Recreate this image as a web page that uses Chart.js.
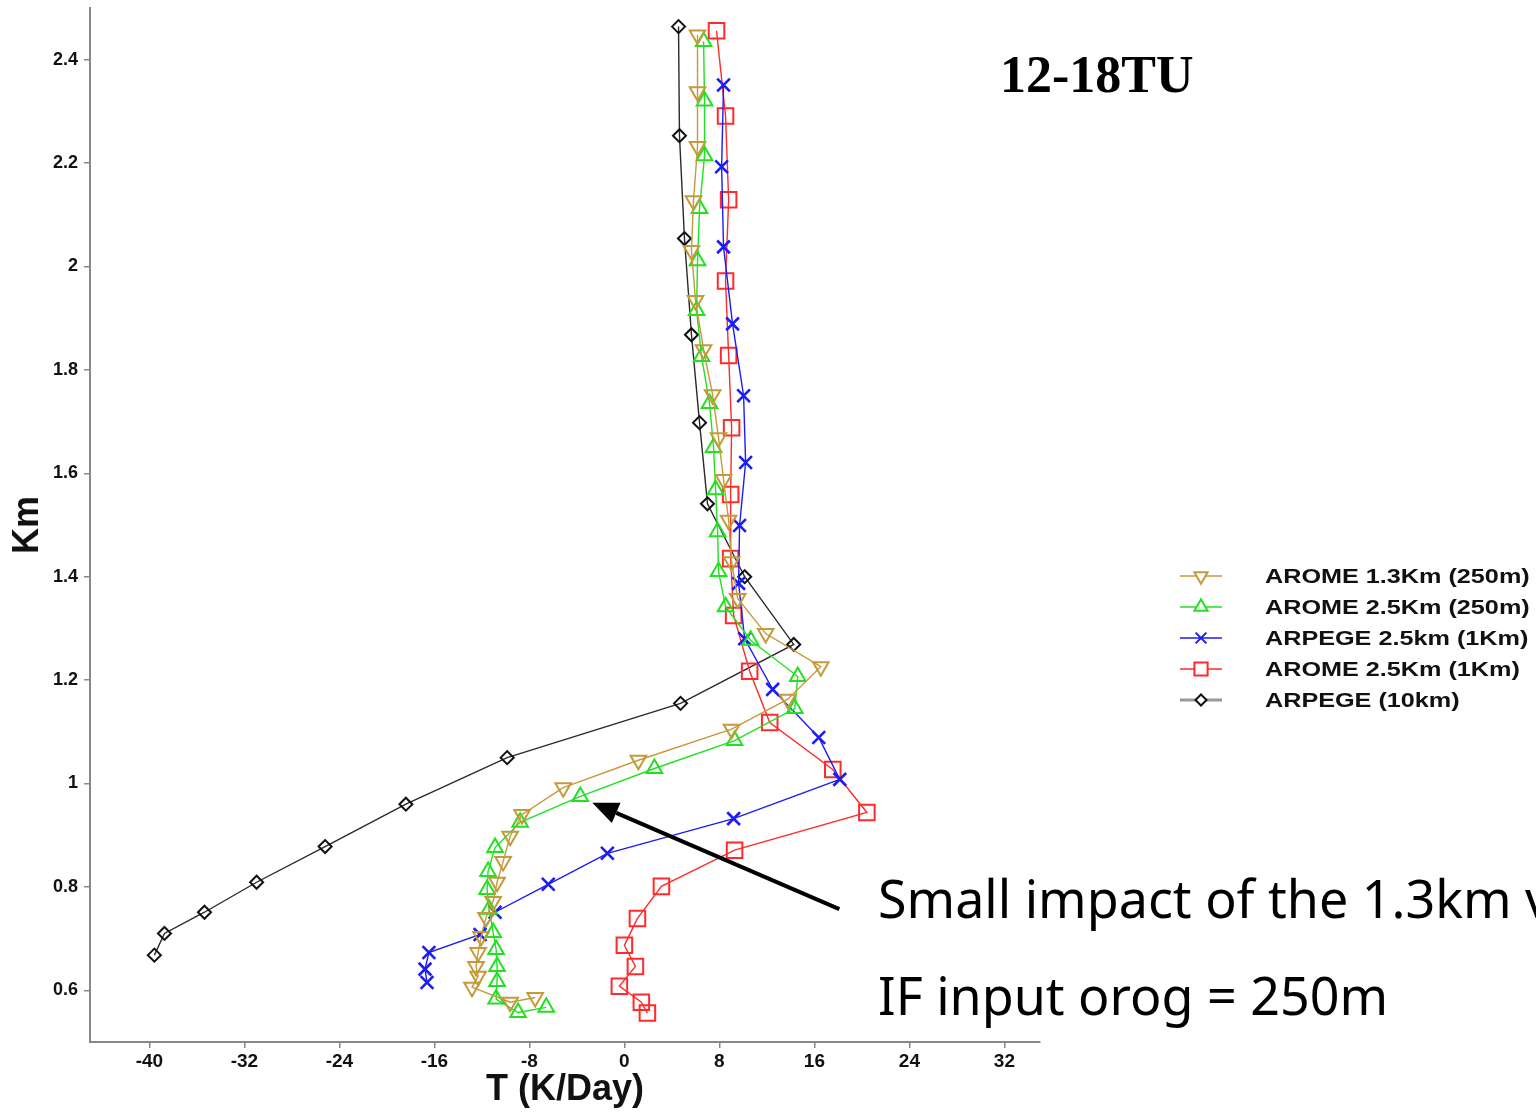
<!DOCTYPE html>
<html>
<head>
<meta charset="utf-8">
<title>12-18TU</title>
<script src="https://cdn.jsdelivr.net/npm/chart.js@4.4.1/dist/chart.umd.min.js"></script>
<style>
  html, body { margin: 0; padding: 0; background: #fff; }
  canvas { display: block; }
</style>
</head>
<body>
<canvas id="perfil" width="1536" height="1114"></canvas>
<script>
// Perfiles de tendencia de temperatura (K/día) frente a altura (km)
const arome13_T = [6.16, 6.16, 6.16, 5.82, 5.65, 5.99, 6.67, 7.43, 7.93, 8.35, 8.78, 9.03, 9.54, 11.9, 16.54, 13.76, 9.03, 1.18, -5.15, -8.61, -9.62, -10.21, -10.72, -11.05, -11.65, -12.07, -12.32, -12.49, -12.32, -12.83, -9.62, -7.51];
const arome13_Z = [2.448, 2.338, 2.232, 2.127, 2.031, 1.934, 1.839, 1.752, 1.669, 1.588, 1.509, 1.429, 1.358, 1.290, 1.226, 1.163, 1.105, 1.045, 0.992, 0.940, 0.898, 0.849, 0.809, 0.772, 0.741, 0.704, 0.673, 0.646, 0.627, 0.606, 0.577, 0.586];

const arome25_T = [6.67, 6.75, 6.75, 6.33, 6.16, 6.08, 6.50, 7.17, 7.51, 7.68, 7.85, 7.93, 8.52, 10.63, 14.6, 14.35, 9.28, 2.53, -3.71, -8.78, -10.89, -11.48, -11.56, -11.39, -11.05, -10.80, -10.72, -10.72, -10.80, -8.95, -6.58];
const arome25_Z = [2.435, 2.320, 2.214, 2.112, 2.011, 1.915, 1.826, 1.735, 1.650, 1.568, 1.487, 1.410, 1.342, 1.277, 1.207, 1.145, 1.083, 1.029, 0.975, 0.925, 0.876, 0.830, 0.795, 0.757, 0.712, 0.679, 0.646, 0.617, 0.583, 0.557, 0.567];

const arpege25_T = [8.35, 8.19, 8.35, 9.11, 10.04, 10.21, 9.70, 9.62, 10.13, 12.49, 16.37, 18.14, 9.20, -1.43, -6.41, -10.89, -12.15, -16.46, -16.79, -16.62];
const arpege25_Z = [2.351, 2.193, 2.038, 1.889, 1.750, 1.621, 1.499, 1.387, 1.280, 1.182, 1.089, 1.008, 0.932, 0.865, 0.805, 0.751, 0.708, 0.673, 0.641, 0.615];

const arome1k_T = [7.76, 8.52, 8.78, 8.52, 8.78, 9.03, 8.95, 8.95, 9.20, 10.55, 12.24, 17.55, 20.42, 9.28, 3.12, 1.10, 0.0, 0.93, -0.42, 1.43, 1.94];
const arome1k_Z = [2.456, 2.291, 2.129, 1.972, 1.828, 1.688, 1.559, 1.435, 1.325, 1.217, 1.118, 1.027, 0.944, 0.871, 0.801, 0.739, 0.687, 0.646, 0.608, 0.577, 0.556];

const arpege10_T = [4.56, 4.64, 5.06, 5.65, 6.33, 7.00, 10.13, 14.26, 4.73, -9.87, -18.4, -25.2, -30.97, -35.36, -38.73, -39.58];
const arpege10_Z = [2.464, 2.253, 2.054, 1.868, 1.698, 1.541, 1.400, 1.269, 1.155, 1.050, 0.960, 0.878, 0.809, 0.751, 0.710, 0.668];

const nombresSeries = ['AROME 1.3Km (250m)', 'AROME 2.5Km (250m)', 'ARPEGE 2.5km (1Km)', 'AROME 2.5Km (1Km)', 'ARPEGE (10km)'];

const ticksX = [-40, -32, -24, -16, -8, 0, 8, 16, 24, 32];
const ticksY = [0.6, 0.8, 1, 1.2, 1.4, 1.6, 1.8, 2, 2.2, 2.4];

// flecha de la anotación (en unidades de los ejes)
const flechaDesde = { x: 18.1, y: 0.757 };
const flechaHasta = { x: -2.7, y: 0.963 };

function puntos(t, z) {
    return t.map((v, i) => ({ x: v, y: z[i] }));
}

function serie(nombre, t, z, color, estilo, radio, rotacion, grosor) {
    return {
        label: nombre,
        data: puntos(t, z),
        showLine: true,
        borderColor: color,
        borderWidth: 1.4,
        pointStyle: estilo,
        pointRotation: rotacion || 0,
        pointRadius: radio,
        pointHoverRadius: radio,
        pointBorderColor: color,
        pointBackgroundColor: 'rgba(0,0,0,0)',
        pointBorderWidth: grosor || 2,
        tension: 0
    };
}

const datasets = [
    serie(nombresSeries[0], arome13_T, arome13_Z, '#c49a3c', 'triangle', 9, 180),
    serie(nombresSeries[1], arome25_T, arome25_Z, '#22e022', 'triangle', 9, 0),
    serie(nombresSeries[2], arpege25_T, arpege25_Z, '#1c1cf5', 'crossRot', 9, 0, 2.6),
    serie(nombresSeries[3], arome1k_T, arome1k_Z, '#ff2a2a', 'rect', 11, 0),
    serie(nombresSeries[4], arpege10_T, arpege10_Z, '#2a2a2a', 'rectRot', 6.5, 0)
];
datasets[4].pointBorderColor = '#111';

// leyenda, título y anotación dibujados a mano
const extras = {
    id: 'extras',
    afterDraw(chart) {
        const ctx = chart.ctx;
        const sx = chart.scales.x, sy = chart.scales.y;

        // leyenda
        chart.data.datasets.forEach((ds, i) => {
            const y = 576 + i * 31;
            ctx.save();
            ctx.strokeStyle = i === 4 ? '#999' : ds.borderColor;
            ctx.lineWidth = i === 4 ? 3 : 1.6;
            ctx.beginPath();
            ctx.moveTo(1180, y);
            ctx.lineTo(1222, y);
            ctx.stroke();
            ctx.strokeStyle = ds.pointBorderColor;
            ctx.fillStyle = '#fff';
            ctx.lineWidth = 2;
            Chart.helpers.drawPoint(ctx, {
                pointStyle: ds.pointStyle,
                rotation: ds.pointRotation,
                radius: ds.pointRadius * 0.85,
                borderWidth: 2
            }, 1201, y);
            ctx.restore();

            ctx.save();
            ctx.translate(1265, y);
            ctx.scale(1.2, 1);
            ctx.fillStyle = '#111';
            ctx.font = 'bold 21px "Liberation Sans", Arial, sans-serif';
            ctx.textBaseline = 'middle';
            ctx.fillText(ds.label, 0, 1);
            ctx.restore();
        });

        // título del periodo
        ctx.save();
        ctx.fillStyle = '#000';
        ctx.font = 'bold 52px "Liberation Serif", "Times New Roman", serif';
        ctx.textBaseline = 'alphabetic';
        ctx.fillText('12-18TU', 1000, 92);
        ctx.restore();

        // texto de la anotación
        ctx.save();
        ctx.fillStyle = '#000';
        ctx.font = '52px "Comic Sans MS", "Noto Sans", sans-serif';
        ctx.fillText('Small impact of the 1.3km version', 878, 918);
        ctx.fillText('IF input orog = 250m', 878, 1015);
        ctx.restore();

        // flecha
        const x0 = sx.getPixelForValue(flechaDesde.x), y0 = sy.getPixelForValue(flechaDesde.y);
        const x1 = sx.getPixelForValue(flechaHasta.x), y1 = sy.getPixelForValue(flechaHasta.y);
        const ang = Math.atan2(y1 - y0, x1 - x0);
        const largo = 26, ancho = 11;
        const bx = x1 - Math.cos(ang) * largo, by = y1 - Math.sin(ang) * largo;
        ctx.save();
        ctx.strokeStyle = '#000';
        ctx.fillStyle = '#000';
        ctx.lineWidth = 4;
        ctx.beginPath();
        ctx.moveTo(x0, y0);
        ctx.lineTo(bx, by);
        ctx.stroke();
        ctx.beginPath();
        ctx.moveTo(x1, y1);
        ctx.lineTo(bx + Math.sin(ang) * ancho, by - Math.cos(ang) * ancho);
        ctx.lineTo(bx - Math.sin(ang) * ancho, by + Math.cos(ang) * ancho);
        ctx.closePath();
        ctx.fill();
        ctx.restore();
    }
};

const fuenteTicks = { family: '"Liberation Sans", Arial, sans-serif', weight: 'bold', size: 18 };

new Chart(document.getElementById('perfil'), {
    type: 'scatter',
    data: { datasets: datasets },
    options: {
        responsive: false,
        animation: false,
        layout: { autoPadding: false, padding: { left: 0, right: 496, top: 8, bottom: 0 } },
        plugins: { legend: { display: false }, tooltip: { enabled: false } },
        scales: {
            x: {
                type: 'linear',
                min: -45,
                max: 35,
                afterBuildTicks: s => { s.ticks = ticksX.map(v => ({ value: v })); },
                afterFit: s => { s.height = 72; s.paddingLeft = 0; s.paddingRight = 0; },
                grid: { drawOnChartArea: false, drawTicks: true, tickLength: 6, color: '#888', lineWidth: 1.5 },
                border: { display: true, color: '#888', width: 2 },
                ticks: { color: '#111', font: { ...fuenteTicks, size: 19 }, padding: 2, maxRotation: 0, callback: v => String(v) },
                title: {
                    display: true,
                    text: 'T (K/Day)',
                    color: '#111',
                    font: { family: '"Liberation Sans", Arial, sans-serif', weight: 'bold', size: 36 },
                    padding: { top: 0, bottom: 2 }
                }
            },
            y: {
                type: 'linear',
                min: 0.5,
                max: 2.5,
                afterBuildTicks: s => { s.ticks = ticksY.map(v => ({ value: v })); },
                afterFit: s => { s.width = 90; s.paddingTop = 0; s.paddingBottom = 0; },
                grid: { drawOnChartArea: false, drawTicks: true, tickLength: 6, color: '#888', lineWidth: 1.5 },
                border: { display: true, color: '#888', width: 2 },
                ticks: { color: '#111', font: fuenteTicks, padding: 6, callback: v => String(v) },
                title: {
                    display: true,
                    text: 'Km',
                    color: '#111',
                    font: { family: '"Liberation Sans", Arial, sans-serif', weight: 'bold', size: 36 },
                    padding: { top: 6, bottom: 0 }
                }
            }
        }
    },
    plugins: [extras]
});
</script>
</body>
</html>
